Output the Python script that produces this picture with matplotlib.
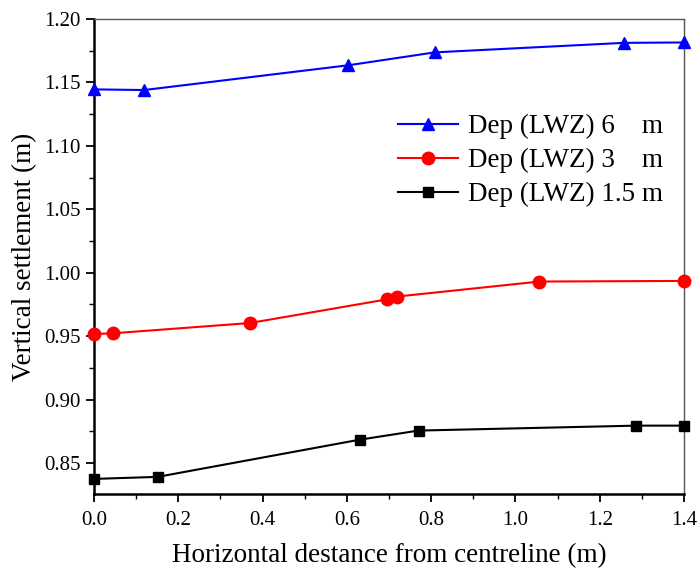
import matplotlib
matplotlib.use('Agg')
import matplotlib.pyplot as plt
from matplotlib.ticker import MultipleLocator

plt.rcParams['font.family'] = ['Liberation Serif', 'DejaVu Serif']
plt.rcParams['mathtext.fontset'] = 'stix'

# data
x6 = [0.0, 0.119, 0.603, 0.809, 1.258, 1.4]
y6 = [1.1445, 1.1440, 1.1635, 1.1737, 1.1812, 1.1815]

x3 = [0.0, 0.045, 0.370, 0.696, 0.720, 1.057, 1.4]
y3 = [0.9517, 0.9522, 0.9603, 0.9790, 0.9812, 0.9930, 0.9935]

x15 = [0.0, 0.151, 0.630, 0.770, 1.286, 1.4]
y15 = [0.8374, 0.8390, 0.8683, 0.8755, 0.8794, 0.8794]

labels = ['Dep (LWZ) 6    m', 'Dep (LWZ) 3    m', 'Dep (LWZ) 1.5 m']

fig = plt.figure(figsize=(6.97, 5.71), dpi=100)
ax = fig.add_axes([94/697, 1 - 494/571, 590/697, 475/571])

ax.plot(x6, y6, '^-', color='blue', lw=1.5, ms=9, label=labels[0], clip_on=False, zorder=3)
ax.plot(x3, y3, 'o-', color='red', lw=1.5, ms=9, label=labels[1], clip_on=False, zorder=3)
ax.plot(x15, y15, 's-', color='black', lw=1.5, ms=7.5, label=labels[2], clip_on=False, zorder=3)

ax.set_xlim(0, 1.4)
ax.set_ylim(0.8255, 1.20)
ax.xaxis.set_major_locator(MultipleLocator(0.2))
ax.xaxis.set_minor_locator(MultipleLocator(0.1))
ax.yaxis.set_major_locator(MultipleLocator(0.05))
ax.yaxis.set_minor_locator(MultipleLocator(0.025))
ax.xaxis.set_major_formatter(matplotlib.ticker.FormatStrFormatter('%.1f'))
ax.yaxis.set_major_formatter(matplotlib.ticker.FormatStrFormatter('%.2f'))

ax.tick_params(which='major', direction='out', length=6, width=1.3, labelsize=15, top=False, right=False)
ax.tick_params(axis='x', which='major', pad=6)
ax.tick_params(which='minor', direction='out', length=3.5, width=1.0, top=False, right=False)

for s in ['left', 'bottom']:
    ax.spines[s].set_linewidth(1.8)
    ax.spines[s].set_color('black')
for s in ['top', 'right']:
    ax.spines[s].set_linewidth(1.0)
    ax.spines[s].set_color('#555555')

ax.set_xlabel('Horizontal destance from centreline (m)', fontsize=19.5, labelpad=10)
ax.set_ylabel('Vertical settlement (m)', fontsize=19.5, labelpad=5)

ax.legend(loc='upper right', bbox_to_anchor=(0.965, 0.80), frameon=False, fontsize=19.5,
          handlelength=2.2, handletextpad=0.4, labelspacing=0.33, borderaxespad=0, borderpad=0)

fig.savefig('out.png', dpi=100)
